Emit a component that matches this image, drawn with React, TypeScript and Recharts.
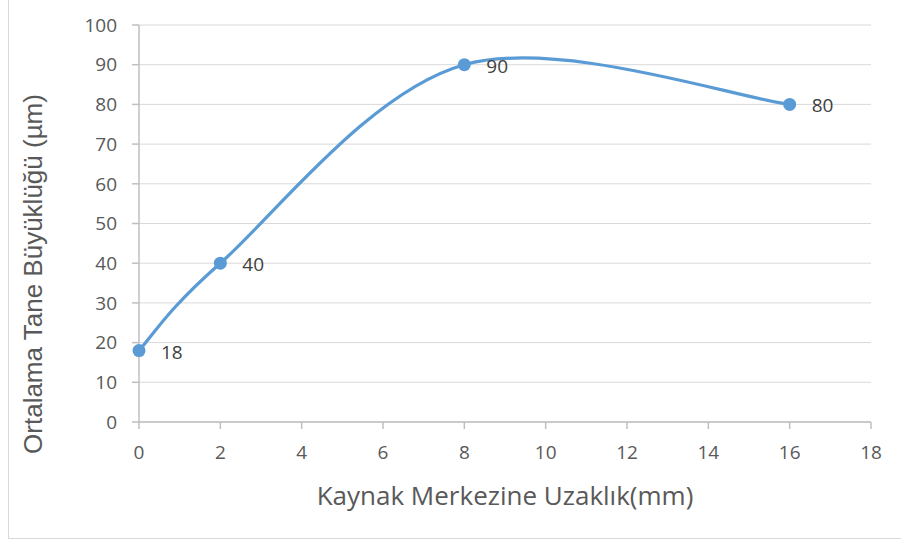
import React from "react";
import { LineChart, Line, XAxis, YAxis, CartesianGrid, LabelList } from "recharts";

// mesafe (mm) ve ortalama tane büyüklüğü (µm)
const distances = [0, 2, 8, 16];
const grainSizes = [18, 40, 90, 80];
const xTicks = [0, 2, 4, 6, 8, 10, 12, 14, 16, 18];
const yTicks = [0, 10, 20, 30, 40, 50, 60, 70, 80, 90, 100];

const data = distances.map((d, i) => ({ x: d, y: grainSizes[i] }));

const BLUE = "#5b9bd5";
const TEXT = "#595959";
const FONT = "'Open Sans', sans-serif";

// Excel-like smoothed line (Catmull-Rom as bezier)
const excelSmooth = (ctx: any) => {
  let pts: [number, number][] = [];
  return {
    areaStart() {},
    areaEnd() {},
    lineStart() {
      pts = [];
    },
    point(x: number, y: number) {
      pts.push([+x, +y]);
    },
    lineEnd() {
      if (!pts.length) return;
      ctx.moveTo(pts[0][0], pts[0][1]);
      for (let i = 0; i < pts.length - 1; i++) {
        const p0 = pts[Math.max(i - 1, 0)];
        const p1 = pts[i];
        const p2 = pts[i + 1];
        const p3 = pts[Math.min(i + 2, pts.length - 1)];
        ctx.bezierCurveTo(
          p1[0] + (p2[0] - p0[0]) / 6,
          p1[1] + (p2[1] - p0[1]) / 6,
          p2[0] - (p3[0] - p1[0]) / 6,
          p2[1] - (p3[1] - p1[1]) / 6,
          p2[0],
          p2[1]
        );
      }
    },
  };
};

const PointLabel = (props: any) => {
  const { x, y, value } = props;
  return (
    <text x={x + 22} y={y + 1} dominantBaseline="central" fontSize={19} fill="#404040" fontFamily={FONT}>
      {value}
    </text>
  );
};

export default function App() {
  return (
    <div style={{ position: "relative", width: 901, height: 543, overflow: "hidden", background: "#fff" }}>
      <style>{`body{margin:0}`}</style>
      <div
        style={{
          position: "absolute",
          left: 8,
          top: -20,
          width: 1000,
          height: 559,
          border: "1px solid #d9d9d9",
          boxSizing: "border-box",
        }}
      />
      <LineChart
        width={901}
        height={543}
        data={data}
        margin={{ top: 25, right: 30, bottom: 0, left: 79 }}
        style={{ position: "absolute", left: 0, top: 0 }}
      >
        <CartesianGrid horizontal vertical={false} stroke="#d9d9d9" strokeWidth={1} />
        <XAxis
          dataKey="x"
          type="number"
          domain={[0, 18]}
          ticks={xTicks}
          height={121}
          tickSize={7}
          tickMargin={17}
          axisLine={{ stroke: "#bfbfbf", strokeWidth: 1.5 }}
          tickLine={{ stroke: "#bfbfbf", strokeWidth: 1.5 }}
          tick={{ fill: TEXT, fontSize: 19, fontFamily: FONT }}
          interval={0}
          label={{
            value: "Kaynak Merkezine Uzaklık(mm)",
            position: "insideBottom",
            offset: 38,
            fill: TEXT,
            fontSize: 26,
            fontFamily: FONT,
          }}
        />
        <YAxis
          dataKey="y"
          type="number"
          domain={[0, 100]}
          ticks={yTicks}
          width={60}
          tickSize={7}
          tickMargin={15}
          axisLine={{ stroke: "#bfbfbf", strokeWidth: 1.5 }}
          tickLine={{ stroke: "#bfbfbf", strokeWidth: 1.5 }}
          tick={{ fill: TEXT, fontSize: 19, fontFamily: FONT }}
          interval={0}
        />
        <Line
          dataKey="y"
          type={excelSmooth as any}
          stroke={BLUE}
          strokeWidth={3.25}
          dot={{ r: 6.5, fill: BLUE, stroke: BLUE, strokeWidth: 0 }}
          activeDot={false}
          isAnimationActive={false}
        >
          <LabelList dataKey="y" content={<PointLabel />} />
        </Line>
      </LineChart>
      <div
        style={{
          position: "absolute",
          left: 33,
          top: 274,
          transform: "translate(-50%, -50%) rotate(-90deg)",
          whiteSpace: "nowrap",
          fontFamily: "'Liberation Sans', Arial, sans-serif",
          fontSize: 26,
          color: TEXT,
        }}
      >
        Ortalama Tane Büyüklüğü (µm)
      </div>
    </div>
  );
}
